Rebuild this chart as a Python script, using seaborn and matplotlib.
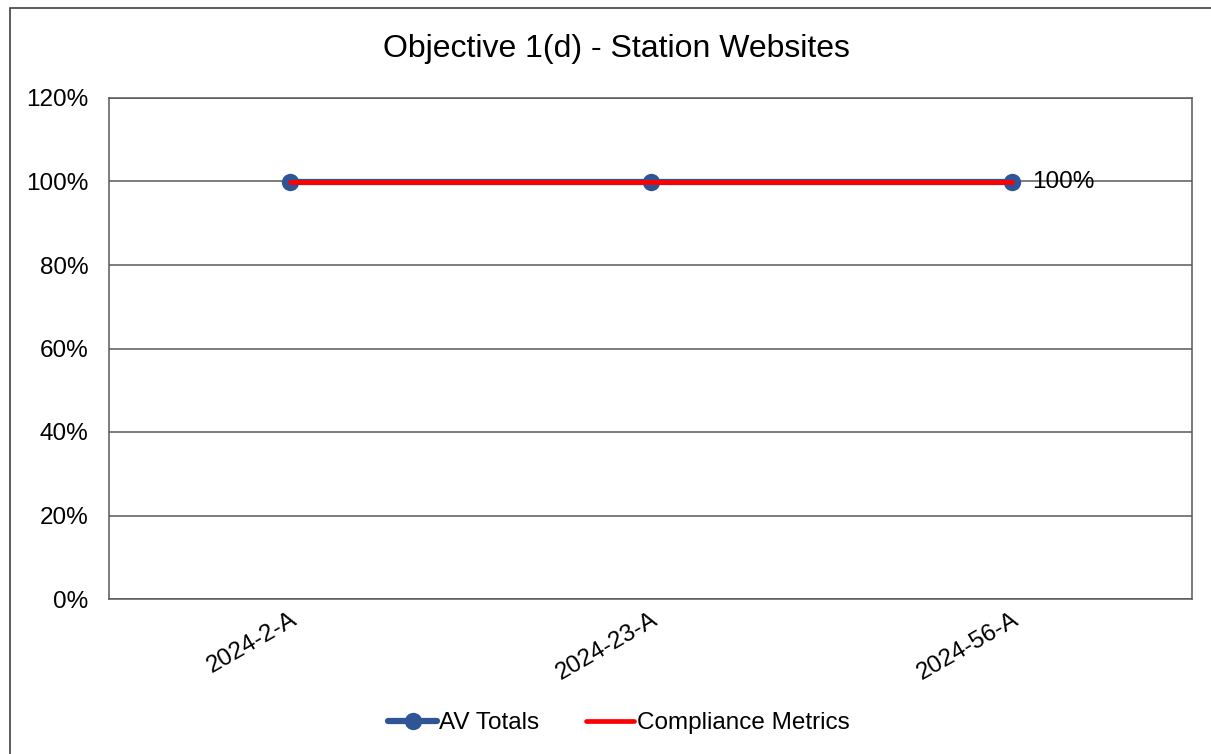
import matplotlib
import matplotlib.pyplot as plt
import pandas as pd
import seaborn as sns
from matplotlib.lines import Line2D
from matplotlib.patches import Rectangle
from matplotlib.ticker import FuncFormatter, MultipleLocator

matplotlib.use("Agg")

# ---------------------------------------------------------------------------
# Data
# ---------------------------------------------------------------------------
CATEGORIES = ["2024-2-A", "2024-23-A", "2024-56-A"]
AV_TOTALS = [1.0, 1.0, 1.0]
COMPLIANCE = [1.0, 1.0, 1.0]
TITLE = "Objective 1(d) - Station Websites"

BLUE = "#2F5597"
RED = "#FF0000"
GRID = "#595959"
FS = 17.5

df = pd.DataFrame({"period": CATEGORIES, "av": AV_TOTALS, "comp": COMPLIANCE})

sns.set_theme(style="white")
plt.rcParams["font.family"] = ["Liberation Sans", "DejaVu Sans"]

fig = plt.figure(figsize=(12.11, 7.54), dpi=100)
ax = fig.add_axes([109 / 1211, 1 - 599 / 754, (1192 - 109) / 1211, (599 - 98) / 754])

# outer chart border
fig.patches.append(Rectangle((10 / 1211, -0.01), 1.0, 1 - 8 / 754 + 0.01,
                             transform=fig.transFigure, fill=False,
                             edgecolor="#404040", linewidth=1.2))

sns.lineplot(data=df, x="period", y="av", ax=ax, color=BLUE, linewidth=4.5,
             marker="o", markersize=12.5, markeredgewidth=0, sort=False, zorder=3)
sns.lineplot(data=df, x="period", y="comp", ax=ax, color=RED, linewidth=3.4,
             sort=False, zorder=4)

# data label on the last point
ax.annotate(f"{AV_TOTALS[-1]:.0%}", xy=(len(CATEGORIES) - 1, AV_TOTALS[-1]),
            xytext=(15, 0), textcoords="offset points", ha="left", va="center",
            fontsize=FS, color="black")

ax.set_xlim(-0.5, len(CATEGORIES) - 0.5)
ax.set_ylim(0, 1.2)
ax.yaxis.set_major_locator(MultipleLocator(0.2))
ax.yaxis.set_major_formatter(FuncFormatter(lambda v, _: f"{v:.0%}"))
ax.grid(axis="y", color=GRID, linewidth=1.1)
ax.set_axisbelow(True)
for s in ax.spines.values():
    s.set_color(GRID)
    s.set_linewidth(1.1)

ax.set_xlabel("")
ax.set_ylabel("")
ax.tick_params(axis="y", labelsize=FS, length=0, pad=15, colors="black")
ax.tick_params(axis="x", labelsize=FS, length=0, pad=7, colors="black")
plt.setp(ax.get_xticklabels(), rotation=30, ha="right", rotation_mode="anchor")

fig.text(616 / 1211, 1 - 49 / 754, TITLE, ha="center", va="center",
         fontsize=23, color="black")

handles = [
    Line2D([], [], color=BLUE, linewidth=4.5, marker="o", markersize=12.5,
           markeredgewidth=0),
    Line2D([], [], color=RED, linewidth=3.4),
]
leg = fig.legend(handles, ["AV Totals", "Compliance Metrics"], loc="center",
                 bbox_to_anchor=(619 / 1211, 1 - 723 / 754), ncol=2, frameon=False,
                 fontsize=FS, handlelength=2.0, handletextpad=0.1, columnspacing=1.9)
for t in leg.get_texts():
    t.set_color("black")

fig.savefig("out.png", dpi=100)
plt.close(fig)
